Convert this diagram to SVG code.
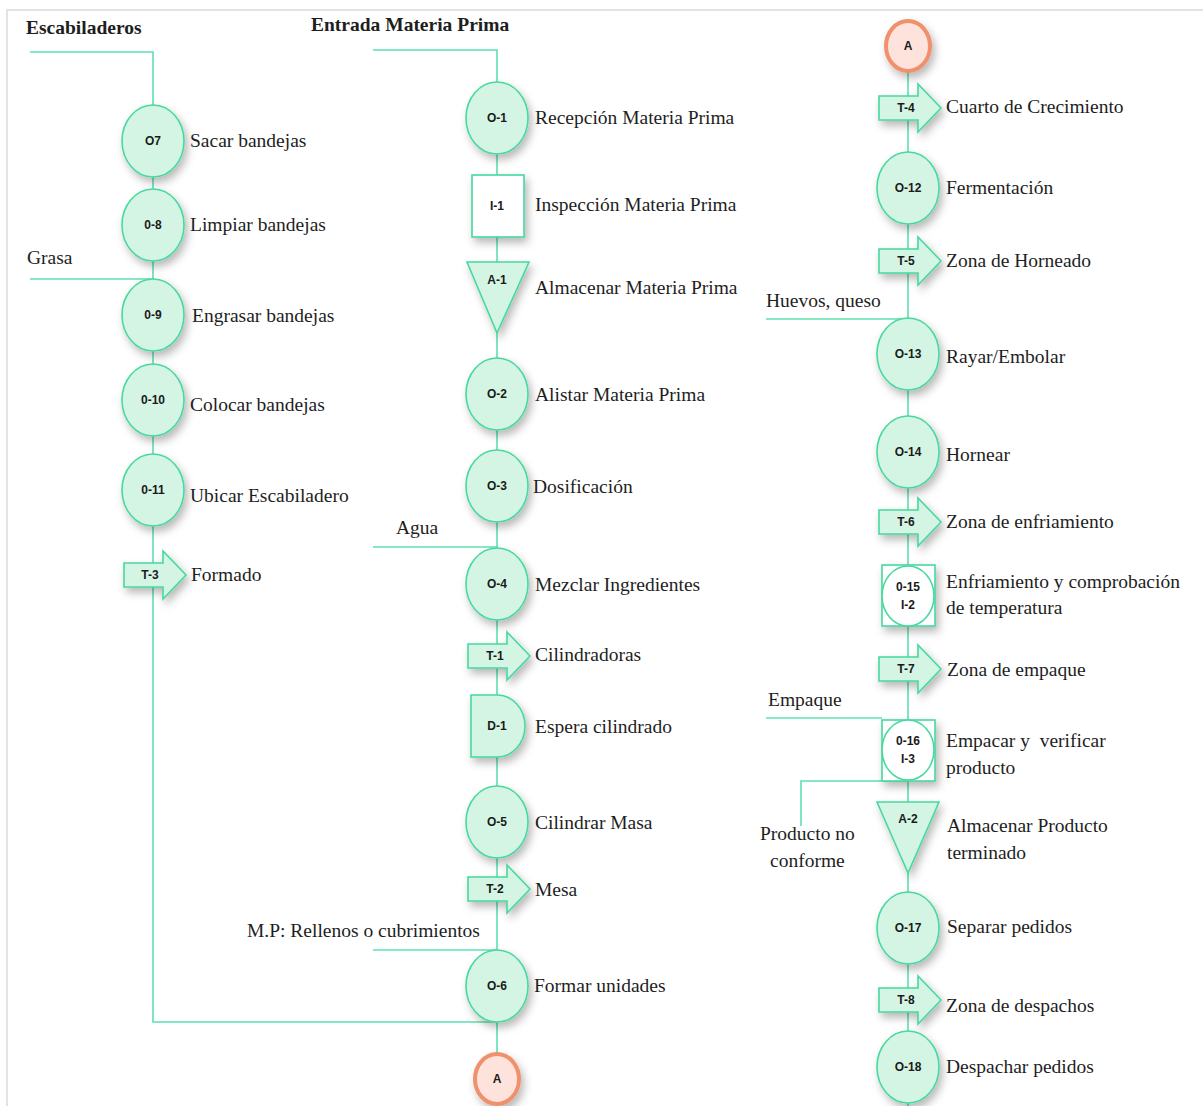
<svg xmlns="http://www.w3.org/2000/svg" width="1203" height="1106" viewBox="0 0 1203 1106">
  <defs>
    <filter id="shadow" x="-40%" y="-40%" width="180%" height="180%">
      <feDropShadow dx="3" dy="5" stdDeviation="4" flood-color="#000" flood-opacity="0.28"/>
    </filter>
    <!-- transport arrow, origin at the column axis -->
    <path id="transport" d="M-29,-12 H10 V-24 L33,0 L10,24 V12 H-29 Z"/>
  </defs>
  <style>
    .frame { fill: none; stroke: #e3e3e3; stroke-width: 2; }
    .link { fill: none; stroke: #5fe0b0; stroke-width: 1.6; }
    .op { fill: #d5f5e4; stroke: #46d99f; stroke-width: 1.6; filter: url(#shadow); }
    .box { fill: #ffffff; stroke: #46d99f; stroke-width: 1.6; filter: url(#shadow); }
    .open { fill: #ffffff; stroke: #46d99f; stroke-width: 1.6; }
    .conn { fill: #fde3dc; stroke: #f0906c; stroke-width: 4; filter: url(#shadow); }
    .code { font-family: "Liberation Sans", Arial, sans-serif; font-weight: bold; font-size: 12px; fill: #1a1a1a; text-anchor: middle; }
    .lbl { font-family: "Liberation Serif", "Times New Roman", serif; font-size: 19.5px; fill: #1e1e1e; white-space: pre; }
    .title { font-family: "Liberation Serif", "Times New Roman", serif; font-size: 19.5px; font-weight: bold; fill: #1e1e1e; }
  </style>

  <rect width="1203" height="1106" fill="#ffffff"/>
  <path class="frame" d="M7,1106 V10 H1203"/>

  <!-- connectors -->
  <g id="connectors">
    <path class="link" d="M30,52 H153 V1022 H497"/>
    <path class="link" d="M30,279 H153"/>
    <path class="link" d="M373,50 H497 V1054"/>
    <path class="link" d="M373,547 H497"/>
    <path class="link" d="M373,950 H497"/>
    <path class="link" d="M908,72 V1106"/>
    <path class="link" d="M766,319 H908"/>
    <path class="link" d="M766,718 H882"/>
    <path class="link" d="M908,781 H801 V826"/>
  </g>

  <!-- headings and input labels -->
  <text class="title" x="26" y="34">Escabiladeros</text>
  <text class="title" x="311" y="31">Entrada Materia Prima</text>
  <text class="lbl" x="27" y="264">Grasa</text>
  <text class="lbl" x="396" y="534">Agua</text>
  <text class="lbl" x="247" y="937">M.P: Rellenos o cubrimientos</text>
  <text class="lbl" x="766" y="307">Huevos, queso</text>
  <text class="lbl" x="768" y="706">Empaque</text>
  <text class="lbl" x="760" y="840">Producto no</text>
  <text class="lbl" x="770" y="867">conforme</text>

  <!-- column 1: trays -->
  <g id="n-o7"><ellipse class="op" cx="153" cy="141" rx="31" ry="36"/><text class="code" x="153" y="145">O7</text><text class="lbl" x="190" y="147">Sacar bandejas</text></g>
  <g id="n-o8"><ellipse class="op" cx="153" cy="225" rx="31" ry="36"/><text class="code" x="153" y="229">0-8</text><text class="lbl" x="190" y="231">Limpiar bandejas</text></g>
  <g id="n-o9"><ellipse class="op" cx="153" cy="315" rx="31" ry="36"/><text class="code" x="153" y="319">0-9</text><text class="lbl" x="192" y="322">Engrasar bandejas</text></g>
  <g id="n-o10"><ellipse class="op" cx="153" cy="400" rx="31" ry="36"/><text class="code" x="153" y="404">0-10</text><text class="lbl" x="190" y="411">Colocar bandejas</text></g>
  <g id="n-o11"><ellipse class="op" cx="153" cy="490" rx="31" ry="36"/><text class="code" x="153" y="494">0-11</text><text class="lbl" x="190" y="502">Ubicar Escabiladero</text></g>
  <g id="n-t3"><use href="#transport" class="op" x="153" y="575"/><text class="code" x="150" y="579">T-3</text><text class="lbl" x="191" y="581">Formado</text></g>

  <!-- column 2: raw material -->
  <g id="n-o1"><ellipse class="op" cx="497" cy="118" rx="31" ry="36"/><text class="code" x="497" y="122">O-1</text><text class="lbl" x="535" y="124">Recepción Materia Prima</text></g>
  <g id="n-i1"><rect class="box" x="472" y="175" width="52" height="62"/><text class="code" x="497" y="210">I-1</text><text class="lbl" x="535" y="211">Inspección Materia Prima</text></g>
  <g id="n-a1"><path class="op" d="M467,262 H529 L497,333 Z"/><text class="code" x="497" y="284">A-1</text><text class="lbl" x="535" y="294">Almacenar Materia Prima</text></g>
  <g id="n-o2"><ellipse class="op" cx="497" cy="394" rx="31" ry="36"/><text class="code" x="497" y="398">O-2</text><text class="lbl" x="535" y="401">Alistar Materia Prima</text></g>
  <g id="n-o3"><ellipse class="op" cx="497" cy="486" rx="31" ry="36"/><text class="code" x="497" y="490">O-3</text><text class="lbl" x="533" y="493">Dosificación</text></g>
  <g id="n-o4"><ellipse class="op" cx="497" cy="584" rx="31" ry="36"/><text class="code" x="497" y="588">O-4</text><text class="lbl" x="535" y="591">Mezclar Ingredientes</text></g>
  <g id="n-t1"><use href="#transport" class="op" x="497" y="656"/><text class="code" x="495" y="660">T-1</text><text class="lbl" x="535" y="661">Cilindradoras</text></g>
  <g id="n-d1"><path class="op" d="M471,695 H497 A28,31 0 0 1 497,757 H471 Z"/><text class="code" x="497" y="730">D-1</text><text class="lbl" x="535" y="733">Espera cilindrado</text></g>
  <g id="n-o5"><ellipse class="op" cx="497" cy="822" rx="31" ry="36"/><text class="code" x="497" y="826">O-5</text><text class="lbl" x="535" y="829">Cilindrar Masa</text></g>
  <g id="n-t2"><use href="#transport" class="op" x="497" y="889"/><text class="code" x="495" y="893">T-2</text><text class="lbl" x="535" y="896">Mesa</text></g>
  <g id="n-o6"><ellipse class="op" cx="497" cy="986" rx="31" ry="36"/><text class="code" x="497" y="990">O-6</text><text class="lbl" x="534" y="992">Formar unidades</text></g>
  <g id="n-a-out"><ellipse class="conn" cx="497" cy="1079" rx="22" ry="25"/><text class="code" x="497" y="1083">A</text></g>

  <!-- column 3: baking and dispatch -->
  <g id="n-a-in"><ellipse class="conn" cx="908" cy="46" rx="22" ry="25"/><text class="code" x="908" y="50">A</text></g>
  <g id="n-t4"><use href="#transport" class="op" x="908" y="108"/><text class="code" x="906" y="112">T-4</text><text class="lbl" x="946" y="113">Cuarto de Crecimiento</text></g>
  <g id="n-o12"><ellipse class="op" cx="908" cy="188" rx="31" ry="36"/><text class="code" x="908" y="192">O-12</text><text class="lbl" x="946" y="194">Fermentación</text></g>
  <g id="n-t5"><use href="#transport" class="op" x="908" y="261"/><text class="code" x="906" y="265">T-5</text><text class="lbl" x="946" y="267">Zona de Horneado</text></g>
  <g id="n-o13"><ellipse class="op" cx="908" cy="354" rx="31" ry="36"/><text class="code" x="908" y="358">O-13</text><text class="lbl" x="946" y="363">Rayar/Embolar</text></g>
  <g id="n-o14"><ellipse class="op" cx="908" cy="452" rx="31" ry="36"/><text class="code" x="908" y="456">O-14</text><text class="lbl" x="946" y="461">Hornear</text></g>
  <g id="n-t6"><use href="#transport" class="op" x="908" y="522"/><text class="code" x="906" y="526">T-6</text><text class="lbl" x="946" y="528">Zona de enfriamiento</text></g>
  <g id="n-o15"><rect class="box" x="882" y="565" width="53" height="61"/><ellipse class="open" cx="908" cy="596" rx="26" ry="30"/><text class="code" x="908" y="591">0-15</text><text class="code" x="908" y="609">I-2</text><text class="lbl" x="946" y="588">Enfriamiento y comprobación</text><text class="lbl" x="946" y="614">de temperatura</text></g>
  <g id="n-t7"><use href="#transport" class="op" x="908" y="669"/><text class="code" x="906" y="673">T-7</text><text class="lbl" x="947" y="676">Zona de empaque</text></g>
  <g id="n-o16"><rect class="box" x="882" y="720" width="53" height="61"/><ellipse class="open" cx="908" cy="750" rx="26" ry="30"/><text class="code" x="908" y="745">0-16</text><text class="code" x="908" y="763">I-3</text><text class="lbl" x="946" y="747">Empacar y  verificar</text><text class="lbl" x="946" y="774">producto</text></g>
  <g id="n-a2"><path class="op" d="M877,802 H939 L908,873 Z"/><text class="code" x="908" y="823">A-2</text><text class="lbl" x="947" y="832">Almacenar Producto</text><text class="lbl" x="947" y="859">terminado</text></g>
  <g id="n-o17"><ellipse class="op" cx="908" cy="928" rx="31" ry="36"/><text class="code" x="908" y="932">O-17</text><text class="lbl" x="947" y="933">Separar pedidos</text></g>
  <g id="n-t8"><use href="#transport" class="op" x="908" y="1000"/><text class="code" x="906" y="1004">T-8</text><text class="lbl" x="946" y="1012">Zona de despachos</text></g>
  <g id="n-o18"><ellipse class="op" cx="908" cy="1067" rx="31" ry="36"/><text class="code" x="908" y="1071">O-18</text><text class="lbl" x="946" y="1073">Despachar pedidos</text></g>
</svg>
